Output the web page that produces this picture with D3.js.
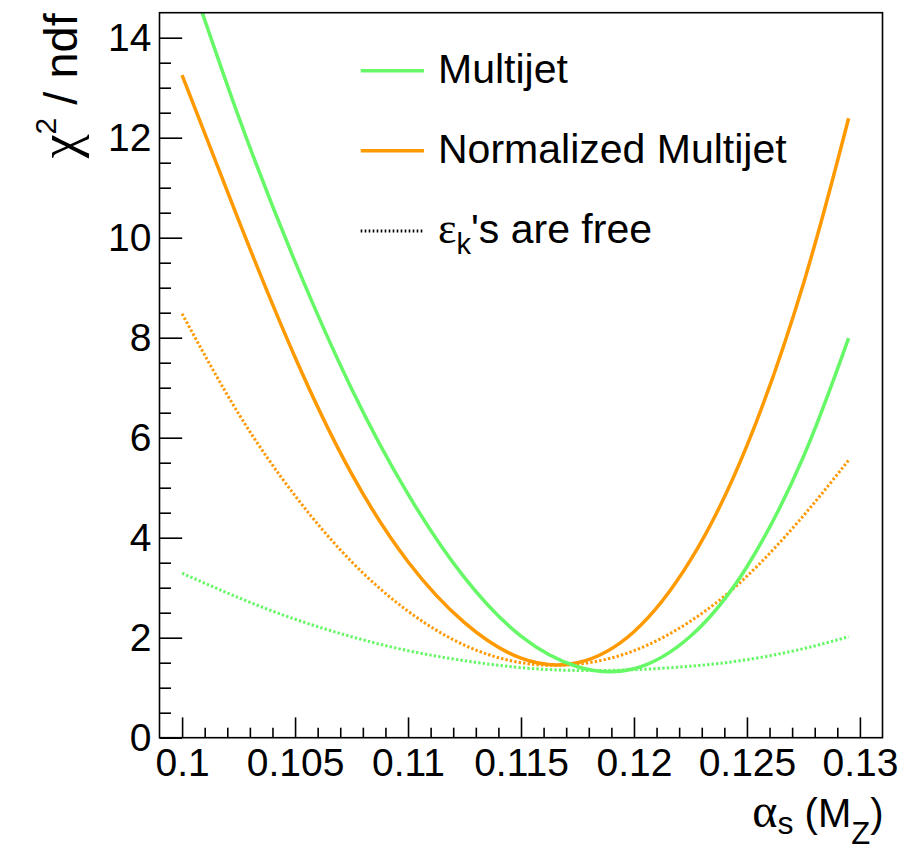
<!DOCTYPE html>
<html><head><meta charset="utf-8">
<script src="https://cdn.jsdelivr.net/npm/d3@7"></script>
<style>
body{margin:0;background:#fff}
svg{display:block}
text{font-family:"Liberation Sans",Arial,Helvetica,sans-serif;fill:#000}
</style>
</head><body>
<svg id="chart" width="922" height="851"></svg>
<script>
// ---- data ----
const alphaS          = [0.1, 0.1025, 0.105, 0.1075, 0.11, 0.1125, 0.115, 0.1175, 0.12, 0.1225, 0.125, 0.1275, 0.1295];
const multijet        = [15.69, 12.42, 9.52, 6.98, 4.87, 3.2, 2.03, 1.42, 1.38, 2.03, 3.42, 5.62, 7.99];
const normMultijet    = [13.25, 10.35, 7.61, 5.28, 3.52, 2.3, 1.59, 1.5, 2.12, 3.55, 5.84, 9.08, 12.39];
const multijetFree    = [3.29, 2.8, 2.37, 2.02, 1.74, 1.54, 1.4, 1.345, 1.36, 1.43, 1.56, 1.78, 2.02];
const normMultijetFree= [8.48, 6.48, 4.84, 3.52, 2.53, 1.85, 1.5, 1.47, 1.74, 2.33, 3.23, 4.44, 5.55];

const xTicks      = [0.1, 0.105, 0.11, 0.115, 0.12, 0.125, 0.13];
const xTickLabels = ["0.1", "0.105", "0.11", "0.115", "0.12", "0.125", "0.13"];
const yTicks      = [0, 2, 4, 6, 8, 10, 12, 14];
const yTickLabels = ["0", "2", "4", "6", "8", "10", "12", "14"];
const legendLabels = ["Multijet", "Normalized Multijet", "ε", "k", "'s are free"];

const GREEN = "#66f866", ORANGE = "#ff9900";

// ---- layout ----
const L = 159.5, R = 882.5, T = 12.7, B = 737.7;
const svg = d3.select("#chart");
const x = d3.scaleLinear().domain([0.099, 0.131]).range([L, R]);
const y = d3.scaleLinear().domain([0, 14.5]).range([B, T]);

svg.append("defs").append("clipPath").attr("id", "plotclip")
  .append("rect").attr("x", L).attr("y", T).attr("width", R - L).attr("height", B - T);

// curves
const line = d3.line().x(d => x(d[0])).y(d => y(d[1])).curve(d3.curveNatural);
const series = [
  {vals: multijetFree, color: GREEN, dash: "2.4,2.1"},
  {vals: normMultijetFree, color: ORANGE, dash: "2.4,2.1"},
  {vals: normMultijet, color: ORANGE, dash: null},
  {vals: multijet, color: GREEN, dash: null}
];
const g = svg.append("g").attr("clip-path", "url(#plotclip)");
series.forEach(s => {
  g.append("path")
    .datum(alphaS.map((a, i) => [a, s.vals[i]]))
    .attr("d", line)
    .attr("fill", "none")
    .attr("stroke", s.color)
    .attr("stroke-width", s.dash ? 3 : 3.5)
    .attr("stroke-dasharray", s.dash);
});

// frame
svg.append("rect").attr("x", L).attr("y", T).attr("width", R - L).attr("height", B - T)
  .attr("fill", "none").attr("stroke", "#000").attr("stroke-width", 1.6);

// axes
const fs = 39;
svg.append("g").attr("transform", `translate(0,${B})`)
  .call(d3.axisBottom(x).tickValues(xTicks).tickSize(-20.3).tickPadding(11)
    .tickFormat((d, i) => xTickLabels[i]));
const xMinor = d3.range(100, 131).map(v => v / 1000).filter(v => Math.round(v * 1000) % 5 !== 0);
svg.append("g").attr("transform", `translate(0,${B})`)
  .call(d3.axisBottom(x).tickValues(xMinor).tickSize(-10).tickFormat(""));

svg.append("g").attr("transform", `translate(${L},0)`)
  .call(d3.axisLeft(y).tickValues(yTicks).tickSize(-22.7).tickPadding(8)
    .tickFormat((d, i) => yTickLabels[i]));
const yMinor = d3.range(1, 29).map(v => v / 2).filter(v => v % 2 !== 0);
svg.append("g").attr("transform", `translate(${L},0)`)
  .call(d3.axisLeft(y).tickValues(yMinor).tickSize(-11.5).tickFormat(""));

svg.selectAll(".domain").remove();
svg.selectAll(".tick line").attr("stroke", "#000").attr("stroke-width", 1.6);
svg.selectAll(".tick text").attr("font-size", fs).attr("font-family", "Liberation Sans, Arial, sans-serif").attr("fill", "#000");

// axis titles
const xt = svg.append("text").attr("x", R + 1).attr("y", 827).attr("text-anchor", "end").attr("font-size", 40);
xt.append("tspan").attr("font-family", "Liberation Serif, serif").attr("font-size", 48).text("α");
xt.append("tspan").attr("font-size", 32).attr("dy", 7).text("s");
xt.append("tspan").attr("font-size", 40).attr("dy", -7).text(" (M");
xt.append("tspan").attr("font-size", 31).attr("dy", 17).text("Z");
xt.append("tspan").attr("font-size", 40).attr("dy", -17).text(")");

const yt = svg.append("text").attr("transform", `translate(77,${T + 0.5}) rotate(-90)`)
  .attr("text-anchor", "end").attr("font-size", 47);
yt.append("tspan").attr("font-family", "Liberation Serif, serif").attr("font-size", 54).text("χ");
yt.append("tspan").attr("font-size", 30).attr("dy", -21).text("2");
yt.append("tspan").attr("dy", 21).text(" / ndf");

// legend
const lx1 = 360.7, lx2 = 424, tx = 438;
const rows = [70.7, 150.7, 231];
const leg = svg.append("g");
leg.append("line").attr("x1", lx1).attr("x2", lx2).attr("y1", rows[0]).attr("y2", rows[0])
  .attr("stroke", GREEN).attr("stroke-width", 3.5);
leg.append("text").attr("x", tx).attr("y", rows[0] + 12).attr("font-size", 41).text(legendLabels[0]);
leg.append("line").attr("x1", lx1).attr("x2", lx2).attr("y1", rows[1]).attr("y2", rows[1])
  .attr("stroke", ORANGE).attr("stroke-width", 3.5);
leg.append("text").attr("x", tx).attr("y", rows[1] + 12).attr("font-size", 41).text(legendLabels[1]);
leg.append("line").attr("x1", lx1).attr("x2", lx2).attr("y1", rows[2]).attr("y2", rows[2])
  .attr("stroke", "#000").attr("stroke-width", 3).attr("stroke-dasharray", "1.6,2.4");
const t3 = leg.append("text").attr("x", tx).attr("y", rows[2] + 12).attr("font-size", 41);
t3.append("tspan").attr("font-family", "Liberation Serif, serif").attr("font-size", 44).text(legendLabels[2]);
t3.append("tspan").attr("font-size", 29).attr("dy", 11).text(legendLabels[3]);
t3.append("tspan").attr("dy", -11).text(legendLabels[4]);
</script>
</body></html>
